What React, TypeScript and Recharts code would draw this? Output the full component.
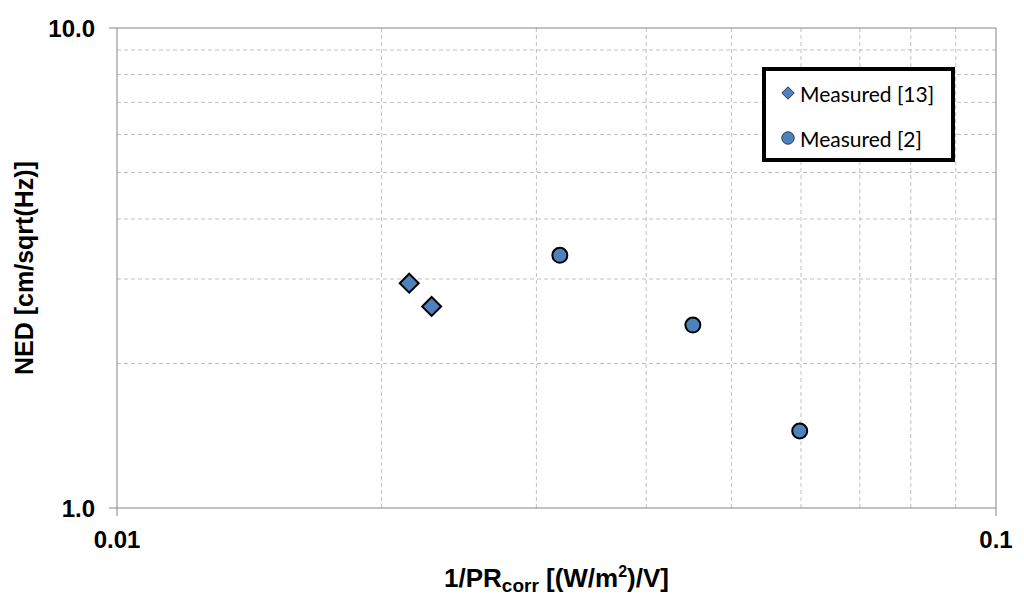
import React from 'react';
import { ScatterChart, Scatter, XAxis, YAxis, CartesianGrid, ReferenceLine, Legend, Label } from 'recharts';

// ---- data ----
const measured13X = [0.0215, 0.0228];
const measured13Y = [2.94, 2.63];
const measured2X = [0.0319, 0.0452, 0.0598];
const measured2Y = [3.36, 2.405, 1.447];

const xMajorTicks = [0.01, 0.1];
const yMajorTicks = [1, 10];
const xMinorGrid = [0.02, 0.03, 0.04, 0.05, 0.06, 0.07, 0.08, 0.09];
const yMinorGrid = [2, 3, 4, 5, 6, 7, 8, 9];

const seriesNames = ['Measured [13]', 'Measured [2]'];
const xTitleParts = ['1/PR', 'corr', ' [(W/m', '2', ')/V]'];
const yTitle = 'NED [cm/sqrt(Hz)]';

const measured13 = measured13X.map((x, i) => ({ x, y: measured13Y[i] }));
const measured2 = measured2X.map((x, i) => ({ x, y: measured2Y[i] }));

const BLUE = '#4f81bd';
const AXIS_FONT = '"Liberation Sans", Arial, sans-serif';

const Diamond = (props: any) => {
  const { cx, cy } = props;
  const h = 9.5;
  return (
    <polygon
      points={`${cx},${cy - h} ${cx + h},${cy} ${cx},${cy + h} ${cx - h},${cy}`}
      fill={BLUE}
      stroke="#000"
      strokeWidth={2}
      strokeLinejoin="miter"
    />
  );
};

const Dot = (props: any) => {
  const { cx, cy } = props;
  return <circle cx={cx} cy={cy} r={7.5} fill={BLUE} stroke="#000" strokeWidth={2} />;
};

const renderLegend = () => (
  <div
    style={{
      boxSizing: 'border-box',
      width: 193,
      height: 95,
      border: '4px solid #000',
      background: '#fff',
      position: 'relative',
      fontFamily: 'Lato, "Open Sans", sans-serif',
      fontSize: 21,
      color: '#000',
    }}
  >
    {seriesNames.map((name, i) => (
      <div
        key={name}
        style={{
          position: 'absolute',
          left: 15,
          top: i === 0 ? 10 : 55,
          height: 24,
          display: 'flex',
          alignItems: 'center',
          whiteSpace: 'nowrap',
        }}
      >
        <svg width={14} height={14} style={{ marginRight: 5 }}>
          {i === 0 ? (
            <polygon points="7,0.8 13.2,7 7,13.2 0.8,7" fill={BLUE} stroke="#1f3a5f" strokeWidth={1} />
          ) : (
            <circle cx={7} cy={7} r={6.2} fill={BLUE} stroke="#1f3a5f" strokeWidth={1} />
          )}
        </svg>
        <span>{name}</span>
      </div>
    ))}
  </div>
);

const XTitle = (props: any) => {
  const vb = props.viewBox;
  return (
    <text
      x={vb.x + vb.width / 2}
      y={vb.y + 79}
      textAnchor="middle"
      fontFamily={AXIS_FONT}
      fontWeight="bold"
      fontSize={26}
      fill="#000"
    >
      <tspan>{xTitleParts[0]}</tspan>
      <tspan fontSize={19} dy={5}>{xTitleParts[1]}</tspan>
      <tspan dy={-5}>{xTitleParts[2]}</tspan>
      <tspan fontSize={16} dy={-10}>{xTitleParts[3]}</tspan>
      <tspan dy={10}>{xTitleParts[4]}</tspan>
    </text>
  );
};

const YTitle = (props: any) => {
  const vb = props.viewBox;
  const x = 25;
  const y = vb.y + vb.height / 2;
  return (
    <text
      x={x}
      y={y}
      transform={`rotate(-90, ${x}, ${y})`}
      textAnchor="middle"
      fontFamily={AXIS_FONT}
      fontWeight="bold"
      fontSize={25}
      fill="#000"
    >
      {yTitle}
    </text>
  );
};

const tickStyle = { fill: '#000', fontSize: 24, fontWeight: 'bold', fontFamily: AXIS_FONT };

export default function App() {
  return (
    <ScatterChart width={1016} height={594} margin={{ top: 20, right: 28, left: 0, bottom: 0 }}>
      <CartesianGrid
        stroke="#c0c0c0"
        strokeDasharray="4 3"
        verticalValues={xMinorGrid}
        horizontalValues={yMinorGrid}
      />
      <XAxis
        dataKey="x"
        type="number"
        scale="log"
        domain={[0.01, 0.1]}
        ticks={xMajorTicks}
        interval={0}
        allowDataOverflow
        stroke="#868686"
        tickSize={8}
        tickMargin={15}
        height={94}
        tick={tickStyle}
        tickFormatter={(v: number) => String(v)}
      >
        <Label content={<XTitle />} />
      </XAxis>
      <YAxis
        dataKey="y"
        type="number"
        scale="log"
        domain={[1, 10]}
        ticks={yMajorTicks}
        interval={0}
        allowDataOverflow
        stroke="#868686"
        tickSize={8}
        tickMargin={14}
        width={109}
        tick={tickStyle}
        tickFormatter={(v: number) => v.toFixed(1)}
      >
        <Label content={<YTitle />} />
      </YAxis>
      <ReferenceLine x={0.1} stroke="#868686" />
      <ReferenceLine y={10} stroke="#868686" />
      <Scatter name={seriesNames[0]} data={measured13} shape={<Diamond />} isAnimationActive={false} />
      <Scatter name={seriesNames[1]} data={measured2} shape={<Dot />} isAnimationActive={false} />
      <Legend
        layout="vertical"
        align="center"
        verticalAlign="middle"
        content={renderLegend}
        wrapperStyle={{ position: 'absolute', left: 754, top: 59, width: 193, height: 95 }}
      />
    </ScatterChart>
  );
}
